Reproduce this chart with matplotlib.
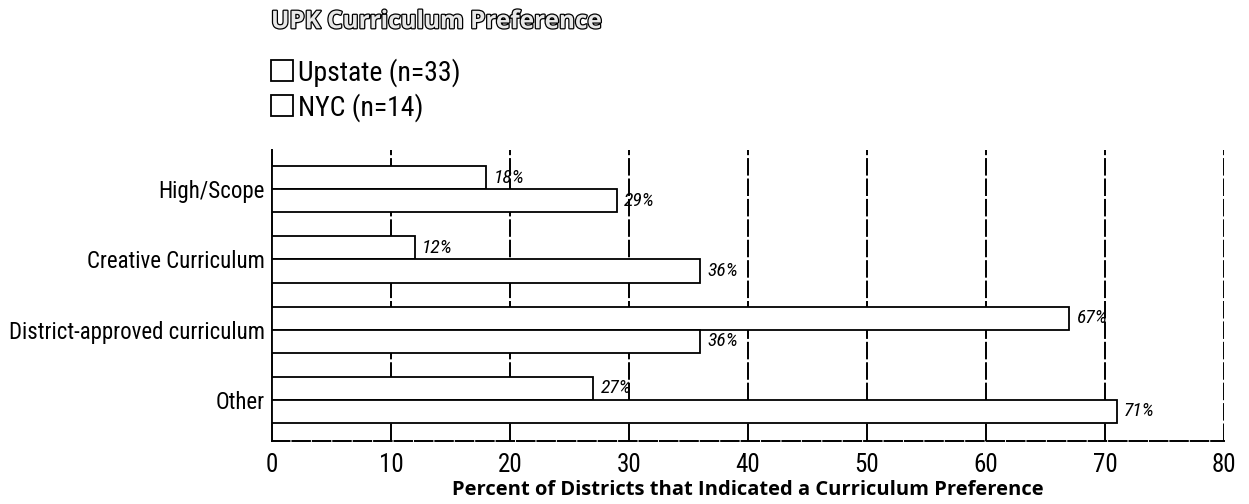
import numpy as np
import matplotlib.pyplot as plt
import matplotlib.patheffects as pe
from matplotlib import font_manager

categories = ['High/Scope', 'Creative Curriculum', 'District-approved curriculum', 'Other']
upstate = [18, 12, 67, 27]
nyc = [29, 36, 36, 71]
series_names = ['Upstate (n=33)', 'NYC (n=14)']
xticks = [0, 10, 20, 30, 40, 50, 60, 70, 80]

# narrow font if one is there
names = {f.name for f in font_manager.fontManager.ttflist}
fam = 'Roboto'
for cand in ['Roboto Condensed', 'Liberation Sans Narrow', 'Roboto']:
    if cand in names:
        fam = cand
        break
plt.rcParams['font.family'] = [fam, 'DejaVu Sans']

fig = plt.figure(figsize=(12.49, 5.04), dpi=100)
ax = fig.add_axes([0.2178, 0.125, 0.7622, 0.577])

y = np.arange(len(categories))
h = 0.33
b1 = ax.barh(y - h / 2, upstate, height=h, color='white', edgecolor='black', linewidth=1.3, zorder=3, label=series_names[0])
b2 = ax.barh(y + h / 2, nyc, height=h, color='white', edgecolor='black', linewidth=1.3, zorder=3, label=series_names[1])

for yy, v in zip(y - h / 2, upstate):
    ax.text(v + 0.6, yy, f'{v}%', style='italic', fontsize=14, va='center', ha='left', zorder=4)
for yy, v in zip(y + h / 2, nyc):
    ax.text(v + 0.6, yy, f'{v}%', style='italic', fontsize=14, va='center', ha='left', zorder=4)

ax.set_xlim(0, 80)
ax.set_ylim(len(categories) - 1 + 0.586, -0.557)
ax.set_xticks(xticks)
ax.set_yticks(y)
ax.set_yticklabels(categories)
ax.tick_params(length=0, labelsize=16.5)
ax.tick_params(axis='x', pad=9, labelsize=18)
ax.tick_params(axis='y', pad=5)

for xv in xticks[1:]:
    ax.axvline(xv, color='black', linewidth=1.4, linestyle=(0, (9, 1.5)), zorder=1)

for s in ['top', 'right']:
    ax.spines[s].set_visible(False)
ax.spines['left'].set_linewidth(1.4)
ax.spines['bottom'].set_linewidth(1.4)
ax.spines['bottom'].set_linestyle((0, (9, 1.5)))

ax.set_xlabel('Percent of Districts that Indicated a Curriculum Preference', fontsize=14.5, fontweight='bold',
              family='Open Sans', labelpad=2)

fig.text(0.217, 0.956, 'UPK Curriculum Preference', fontsize=17.5, fontweight='bold', family='Open Sans',
         color='#e8e8e8', path_effects=[pe.withStroke(linewidth=1.8, foreground='black')], va='center', ha='left')

fig.legend(handles=[b1, b2], loc='upper left', bbox_to_anchor=(0.217, 0.885),
           frameon=False, fontsize=20, handlelength=0.79, handleheight=0.79, handletextpad=0.18, labelspacing=0.22,
           borderaxespad=0, borderpad=0)

plt.savefig('out.png', dpi=100)
